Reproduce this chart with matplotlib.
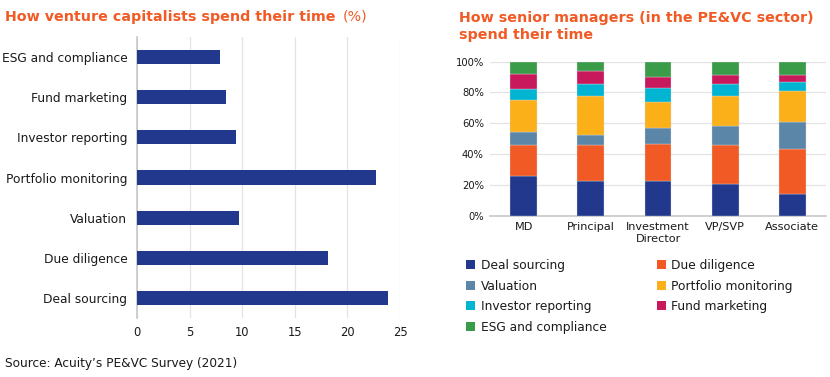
import matplotlib
matplotlib.use("Agg")
import matplotlib.pyplot as plt
from matplotlib.patches import Patch
import numpy as np

# ---------------- data ----------------
left_categories = ["Deal sourcing", "Due diligence", "Valuation", "Portfolio monitoring",
                   "Investor reporting", "Fund marketing", "ESG and compliance"]
left_values = [23.9, 18.2, 9.7, 22.7, 9.4, 8.5, 7.9]
left_ticks = [0, 5, 10, 15, 20, 25]

roles = ["MD", "Principal", "Investment\nDirector", "VP/SVP", "Associate"]
activities = ["Deal sourcing", "Due diligence", "Valuation", "Portfolio monitoring",
              "Investor reporting", "Fund marketing", "ESG and compliance"]
deal_sourcing = [26.0, 22.7, 22.7, 20.6, 14.3]
due_diligence = [20.0, 23.2, 24.1, 25.1, 29.0]
valuation = [8.5, 6.5, 10.3, 12.5, 17.7]
portfolio_monitoring = [20.5, 25.3, 16.7, 19.5, 19.9]
investor_reporting = [7.0, 7.6, 9.1, 7.6, 5.9]
fund_marketing = [10.0, 8.9, 7.1, 5.8, 4.8]
esg_compliance = [8.0, 5.8, 10.0, 8.9, 8.4]
series = [deal_sourcing, due_diligence, valuation, portfolio_monitoring,
          investor_reporting, fund_marketing, esg_compliance]
right_ticks = [0, 20, 40, 60, 80, 100]

# ---------------- style ----------------
NAVY = "#21388c"
ORANGE = "#f15a24"
colors = [NAVY, ORANGE, "#5b86a8", "#fbb01a", "#00b4d2", "#c8195c", "#3a9c48"]
GRID = "#e3e3e3"
TEXT = "#1a1a1a"
plt.rcParams['font.family'] = ['DejaVu Sans']

W, H = 830, 377
fig = plt.figure(figsize=(W / 100, H / 100), dpi=100)

def px_axes(x0, y0, x1, y1):
    return fig.add_axes([x0 / W, 1 - y1 / H, (x1 - x0) / W, (y1 - y0) / H])

# ---------------- left chart ----------------
ax1 = px_axes(137, 37, 400, 318)
y = np.arange(len(left_categories))
ax1.barh(y, left_values, height=0.35, color=NAVY, zorder=3)
ax1.set_xlim(0, 25)
ax1.set_ylim(-0.5, len(left_categories) - 0.5)
ax1.set_yticks(y)
ax1.set_yticklabels(left_categories, fontsize=8.8, color=TEXT)
ax1.set_xticks(left_ticks)
ax1.set_xticklabels([str(t) for t in left_ticks], fontsize=8.3, color=TEXT)
ax1.tick_params(axis='x', length=0, pad=6)
ax1.tick_params(axis='y', length=0, pad=7)
ax1.grid(axis='x', color=GRID, linewidth=0.9, zorder=0)
for s in ["top", "right", "bottom"]:
    ax1.spines[s].set_visible(False)
ax1.spines["left"].set_color("#c8c8c8")
ax1.spines["left"].set_linewidth(1.2)

fig.text(5 / W, 1 - 17 / H, "How venture capitalists spend their time", color=ORANGE,
         fontsize=10.3, fontweight="bold", va="center", ha="left")
fig.text(343 / W, 1 - 17 / H, "(%)", color=ORANGE, fontsize=10.3, va="center", ha="left")

fig.text(5 / W, 1 - 363 / H, "Source: Acuity\u2019s PE&VC Survey (2021)", color=TEXT,
         fontsize=8.7, va="center", ha="left")

# ---------------- right chart ----------------
ax2 = px_axes(490, 61.7, 826, 215.7)
x = np.arange(len(roles))
bottom = np.zeros(len(roles))
handles = []
for name, vals, c in zip(activities, series, colors):
    ax2.bar(x, vals, width=0.4, bottom=bottom, color=c, zorder=3,
            edgecolor="#dddddd", linewidth=0.25)
    bottom += np.array(vals)
    handles.append(Patch(facecolor=c, label=name))
ax2.set_xlim(-0.5, len(roles) - 0.5)
ax2.set_ylim(0, 100)
ax2.set_yticks(right_ticks)
ax2.set_yticklabels([f"{t}%" for t in right_ticks], fontsize=7.2, color=TEXT)
ax2.set_xticks(x)
ax2.set_xticklabels(roles, fontsize=8.1, color=TEXT, linespacing=1.25)
ax2.tick_params(axis='both', length=0, pad=4.5)
ax2.grid(axis='y', color=GRID, linewidth=0.9, zorder=0)
for s in ["top", "right", "left"]:
    ax2.spines[s].set_visible(False)
ax2.spines["bottom"].set_color("#c8c8c8")
ax2.spines["bottom"].set_linewidth(1.2)

fig.text(459 / W, 1 - 26.5 / H, "How senior managers (in the PE&VC sector)\nspend their time",
         color=ORANGE, fontsize=10.3, fontweight="bold", va="center", ha="left",
         linespacing=1.35)

order = [0, 2, 4, 6, 1, 3, 5]
leg = fig.legend([handles[i] for i in order], [activities[i] for i in order],
                 loc="upper left", bbox_to_anchor=(466 / W, 1 - 259 / H), ncol=2,
                 frameon=False, fontsize=8.8, handlelength=0.75, handleheight=0.75,
                 handletextpad=0.45, columnspacing=4.1, labelspacing=0.62,
                 borderaxespad=0, borderpad=0)
for t in leg.get_texts():
    t.set_color(TEXT)

fig.savefig("out.png", dpi=100)
